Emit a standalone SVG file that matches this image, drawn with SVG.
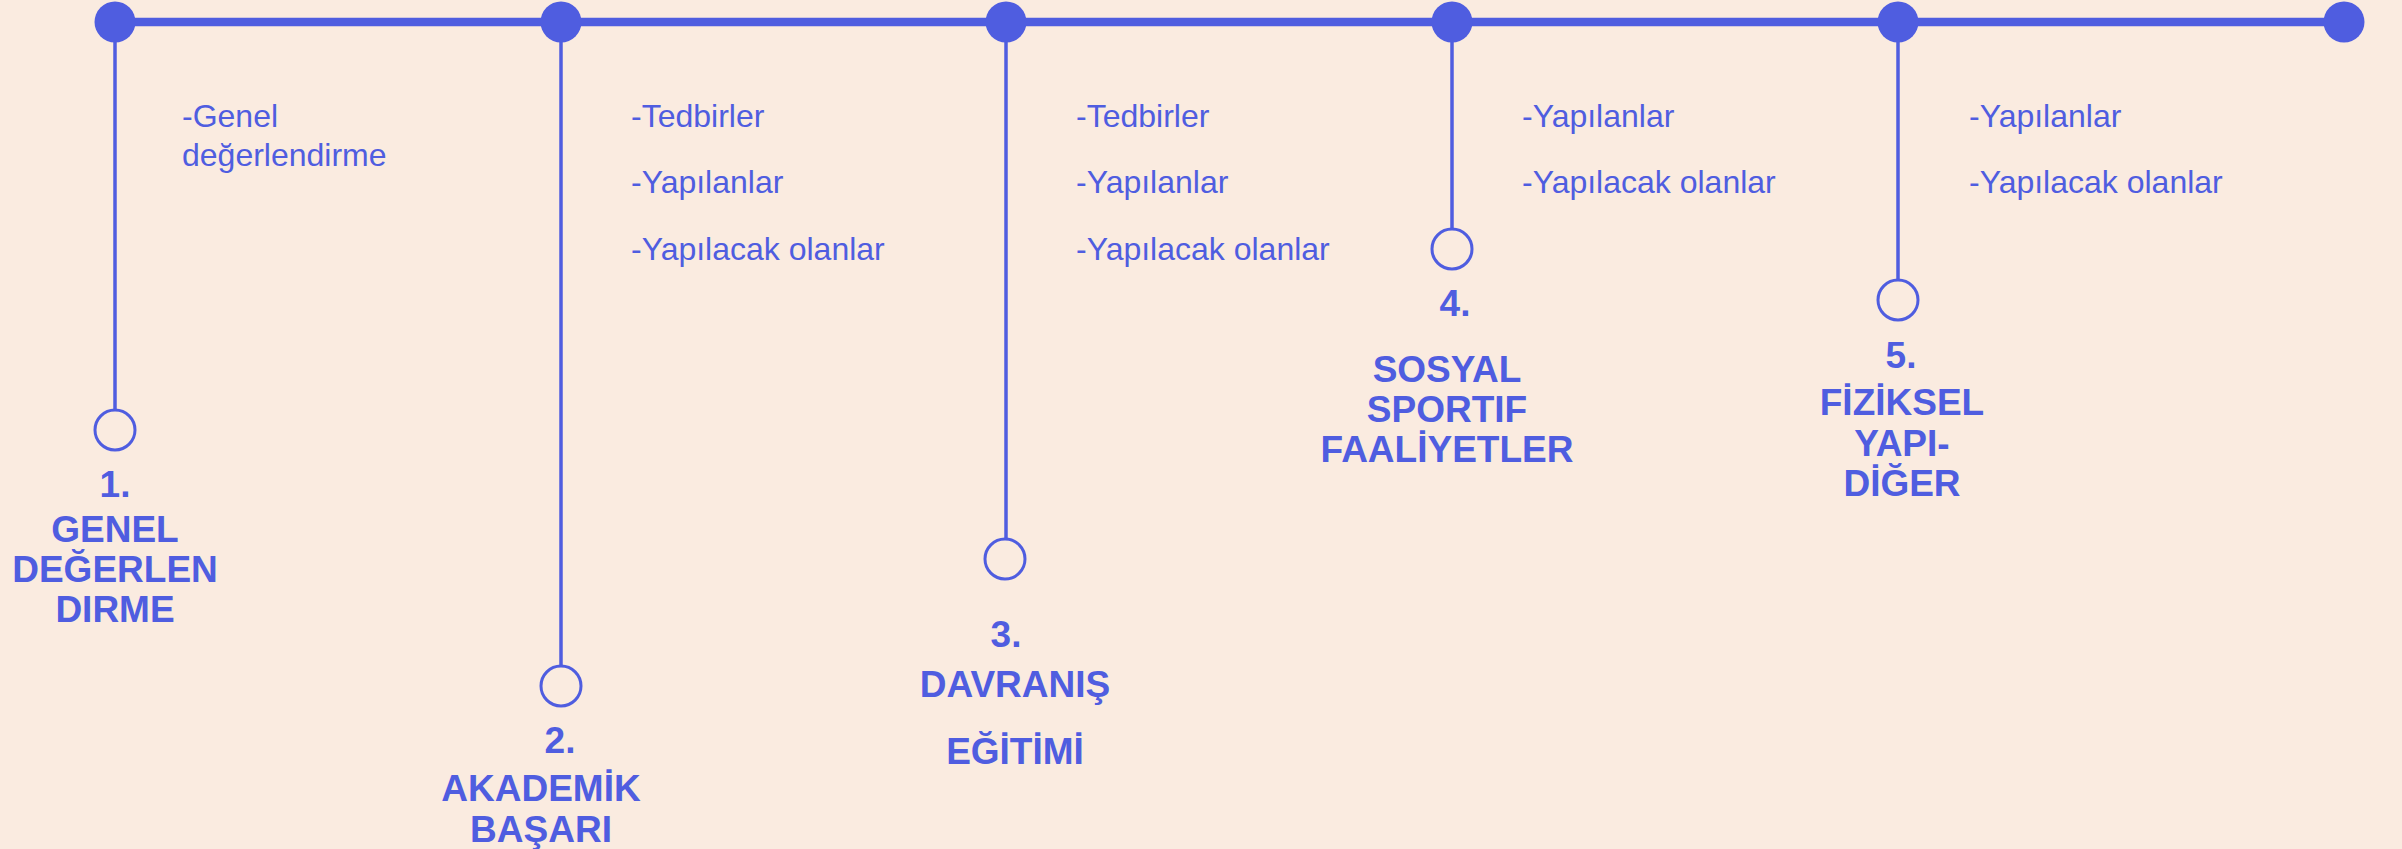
<svg xmlns="http://www.w3.org/2000/svg" width="2402" height="849" viewBox="0 0 2402 849">
<style>
.bg{fill:#FAEBE0}
.dot{fill:#4F5DE0}
.ring{fill:none;stroke:#4F5DE0;stroke-width:3}
.stem{stroke:#4F5DE0;stroke-width:3.5;fill:none}
.main{stroke:#4F5DE0;stroke-width:8.5;fill:none}
.item{font-family:"Liberation Sans",Arial,sans-serif;font-size:32px;fill:#4F5DE0}
.title{font-family:"Liberation Sans",Arial,sans-serif;font-size:37px;font-weight:bold;fill:#4F5DE0;text-anchor:middle}
</style>
<rect class="bg" x="0" y="0" width="2402" height="849"/>
<g id="connectors">
<line class="main" x1="115" y1="22" x2="2344" y2="22"/>
<line class="stem" x1="115" y1="22" x2="115" y2="410"/>
<line class="stem" x1="561" y1="22" x2="561" y2="666"/>
<line class="stem" x1="1006" y1="22" x2="1006" y2="539"/>
<line class="stem" x1="1452" y1="22" x2="1452" y2="229"/>
<line class="stem" x1="1898" y1="22" x2="1898" y2="280"/>
</g>
<g id="end-dot"><circle class="dot" cx="2344" cy="22" r="20.5"/></g>
<g id="node1">
<circle class="dot" cx="115" cy="22" r="20.5"/>
<circle class="ring" cx="115" cy="430" r="20"/>
<text class="item" x="182" y="127">-Genel</text>
<text class="item" x="182" y="166">değerlendirme</text>
<text class="title" x="115" y="497">1.</text>
<text class="title" x="115" y="542">GENEL</text>
<text class="title" x="115" y="582">DEĞERLEN</text>
<text class="title" x="115" y="622">DIRME</text>
</g>
<g id="node2">
<circle class="dot" cx="561" cy="22" r="20.5"/>
<circle class="ring" cx="561" cy="686" r="20"/>
<text class="item" x="631" y="127">-Tedbirler</text>
<text class="item" x="631" y="193">-Yapılanlar</text>
<text class="item" x="631" y="260">-Yapılacak olanlar</text>
<text class="title" x="560" y="753">2.</text>
<text class="title" x="541" y="801">AKADEMİK</text>
<text class="title" x="541" y="842">BAŞARI</text>
</g>
<g id="node3">
<circle class="dot" cx="1006" cy="22" r="20.5"/>
<circle class="ring" cx="1005" cy="559" r="20"/>
<text class="item" x="1076" y="127">-Tedbirler</text>
<text class="item" x="1076" y="193">-Yapılanlar</text>
<text class="item" x="1076" y="260">-Yapılacak olanlar</text>
<text class="title" x="1006" y="647">3.</text>
<text class="title" x="1015" y="697">DAVRANIŞ</text>
<text class="title" x="1015" y="764">EĞİTİMİ</text>
</g>
<g id="node4">
<circle class="dot" cx="1452" cy="22" r="20.5"/>
<circle class="ring" cx="1452" cy="249" r="20"/>
<text class="item" x="1522" y="127">-Yapılanlar</text>
<text class="item" x="1522" y="193">-Yapılacak olanlar</text>
<text class="title" x="1455" y="316">4.</text>
<text class="title" x="1447" y="382">SOSYAL</text>
<text class="title" x="1447" y="422">SPORTIF</text>
<text class="title" x="1447" y="462">FAALİYETLER</text>
</g>
<g id="node5">
<circle class="dot" cx="1898" cy="22" r="20.5"/>
<circle class="ring" cx="1898" cy="300" r="20"/>
<text class="item" x="1969" y="127">-Yapılanlar</text>
<text class="item" x="1969" y="193">-Yapılacak olanlar</text>
<text class="title" x="1901" y="368">5.</text>
<text class="title" x="1902" y="415">FİZİKSEL</text>
<text class="title" x="1902" y="456">YAPI-</text>
<text class="title" x="1902" y="496">DİĞER</text>
</g>
</svg>
